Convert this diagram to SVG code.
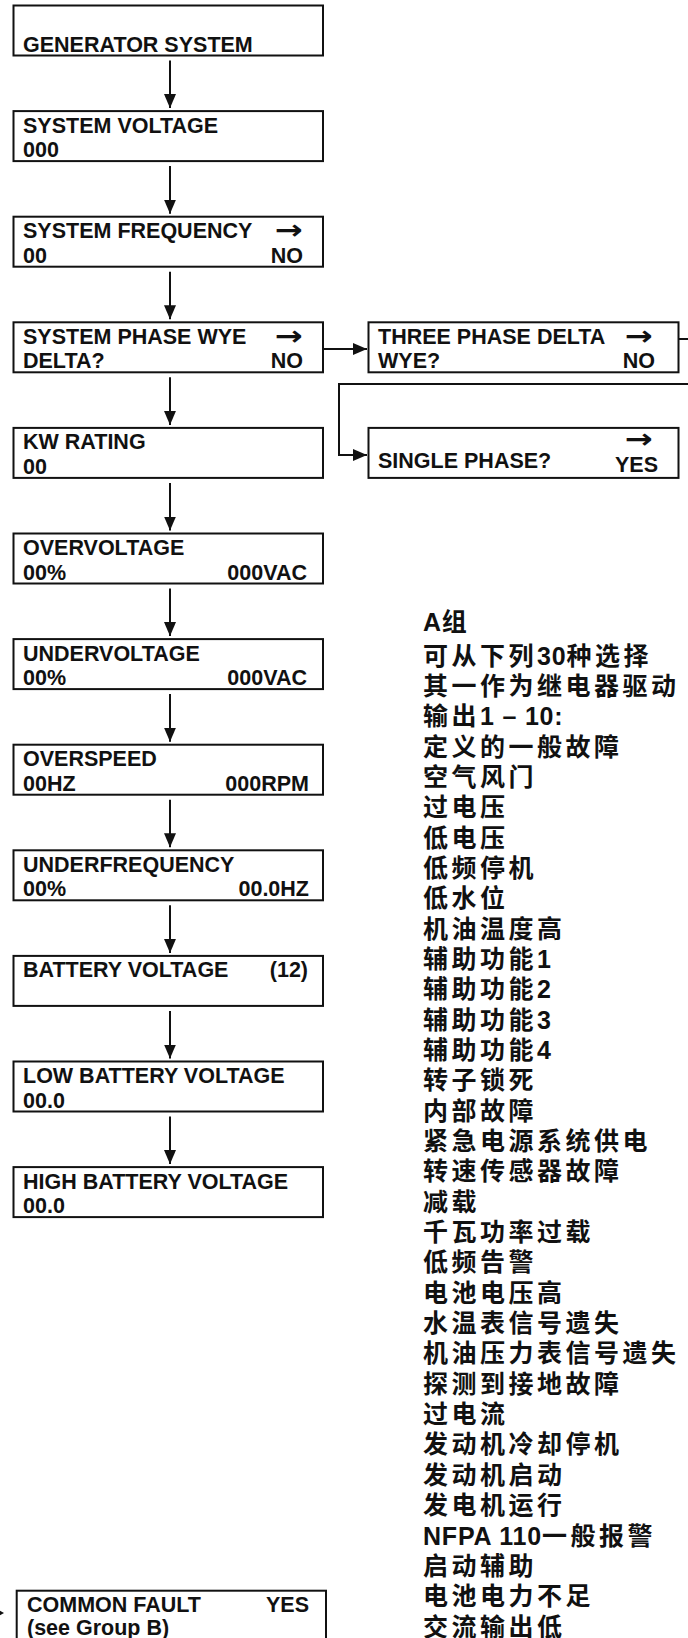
<svg xmlns="http://www.w3.org/2000/svg" width="688" height="1638" viewBox="0 0 688 1638">
<style>
.box{fill:#fff;stroke:#111;stroke-width:2}
.t{font-family:'Liberation Sans',Arial,sans-serif;font-weight:bold;font-size:21.5px;fill:#111}
.r{text-anchor:end}
.ar{font-family:'DejaVu Sans',sans-serif;font-weight:bold;font-size:27px;fill:#111}
.cn{font-family:'Liberation Sans','Noto Sans CJK SC',sans-serif;font-weight:bold;font-size:25px;letter-spacing:3.5px;fill:#111}
.lat{letter-spacing:0.8px}
.conn{stroke:#111;stroke-width:2;fill:none}
</style>
<defs>
<marker id="ah" markerUnits="userSpaceOnUse" markerWidth="14" markerHeight="12" refX="14" refY="6" orient="auto">
<path d="M0,0 L14,6 L0,12 z" fill="#111"/>
</marker>
</defs>
<rect width="688" height="1638" fill="#fff"/>

<g id="connectors">
<line class="conn" x1="170" y1="60.5" x2="170" y2="108.1" marker-end="url(#ah)"/>
<line class="conn" x1="170" y1="166.1" x2="170" y2="213.7" marker-end="url(#ah)"/>
<line class="conn" x1="170" y1="271.7" x2="170" y2="319.3" marker-end="url(#ah)"/>
<line class="conn" x1="170" y1="377.3" x2="170" y2="424.9" marker-end="url(#ah)"/>
<line class="conn" x1="170" y1="482.9" x2="170" y2="530.5" marker-end="url(#ah)"/>
<line class="conn" x1="170" y1="588.5" x2="170" y2="636.1" marker-end="url(#ah)"/>
<line class="conn" x1="170" y1="694.1" x2="170" y2="741.7" marker-end="url(#ah)"/>
<line class="conn" x1="170" y1="799.7" x2="170" y2="847.3" marker-end="url(#ah)"/>
<line class="conn" x1="170" y1="905.3" x2="170" y2="952.9" marker-end="url(#ah)"/>
<line class="conn" x1="170" y1="1010.9" x2="170" y2="1058.5" marker-end="url(#ah)"/>
<line class="conn" x1="170" y1="1116.5" x2="170" y2="1164.1" marker-end="url(#ah)"/>
<line class="conn" x1="323" y1="349" x2="367" y2="349" marker-end="url(#ah)"/>
<line class="conn" x1="678.5" y1="339" x2="688" y2="339"/>
<polyline class="conn" points="688,384 339,384 339,455 367,455" marker-end="url(#ah)"/>
<polygon points="-2,1609.5 4,1613 -2,1616.5" fill="#111"/>
</g>

<g id="n-generator"><rect class="box" x="13.5" y="5.5" width="309.5" height="50"/>
<text class="t" x="23" y="51.5">GENERATOR SYSTEM</text></g>

<g id="n-system-voltage"><rect class="box" x="13.5" y="111.1" width="309.5" height="50"/>
<text class="t" x="23" y="132.6">SYSTEM VOLTAGE</text>
<text class="t" x="23" y="157.1">000</text></g>

<g id="n-system-frequency"><rect class="box" x="13.5" y="216.7" width="309.5" height="50"/>
<text class="t" x="23" y="238.2">SYSTEM FREQUENCY</text>
<text class="ar" x="275" y="239" textLength="28" lengthAdjust="spacingAndGlyphs">→</text>
<text class="t" x="23" y="262.7">00</text>
<text class="t r" x="303" y="262.7">NO</text></g>

<g id="n-system-phase"><rect class="box" x="13.5" y="322.3" width="309.5" height="50"/>
<text class="t" x="23" y="343.8">SYSTEM PHASE WYE</text>
<text class="ar" x="275" y="344.6" textLength="28" lengthAdjust="spacingAndGlyphs">→</text>
<text class="t" x="23" y="368.3">DELTA?</text>
<text class="t r" x="303" y="368.3">NO</text></g>

<g id="n-kw-rating"><rect class="box" x="13.5" y="427.9" width="309.5" height="50"/>
<text class="t" x="23" y="449.4">KW RATING</text>
<text class="t" x="23" y="473.9">00</text></g>

<g id="n-overvoltage"><rect class="box" x="13.5" y="533.5" width="309.5" height="50"/>
<text class="t" x="23" y="555">OVERVOLTAGE</text>
<text class="t" x="23" y="579.5">00%</text>
<text class="t r" x="307" y="579.5">000VAC</text></g>

<g id="n-undervoltage"><rect class="box" x="13.5" y="639.1" width="309.5" height="50"/>
<text class="t" x="23" y="660.6">UNDERVOLTAGE</text>
<text class="t" x="23" y="685.1">00%</text>
<text class="t r" x="307" y="685.1">000VAC</text></g>

<g id="n-overspeed"><rect class="box" x="13.5" y="744.7" width="309.5" height="50"/>
<text class="t" x="23" y="766.2">OVERSPEED</text>
<text class="t" x="23" y="790.7">00HZ</text>
<text class="t r" x="309" y="790.7">000RPM</text></g>

<g id="n-underfrequency"><rect class="box" x="13.5" y="850.3" width="309.5" height="50"/>
<text class="t" x="23" y="871.8">UNDERFREQUENCY</text>
<text class="t" x="23" y="896.3">00%</text>
<text class="t r" x="309" y="896.3">00.0HZ</text></g>

<g id="n-battery-voltage"><rect class="box" x="13.5" y="955.9" width="309.5" height="50"/>
<text class="t" x="23" y="977.4">BATTERY VOLTAGE</text>
<text class="t r" x="308" y="977.4">(12)</text></g>

<g id="n-low-battery"><rect class="box" x="13.5" y="1061.5" width="309.5" height="50"/>
<text class="t" x="23" y="1083">LOW BATTERY VOLTAGE</text>
<text class="t" x="23" y="1107.5">00.0</text></g>

<g id="n-high-battery"><rect class="box" x="13.5" y="1167.1" width="309.5" height="50"/>
<text class="t" x="23" y="1188.6">HIGH BATTERY VOLTAGE</text>
<text class="t" x="23" y="1213.1">00.0</text></g>

<g id="n-three-phase"><rect class="box" x="368.5" y="322.3" width="310" height="50"/>
<text class="t" x="378" y="343.8">THREE PHASE DELTA</text>
<text class="ar" x="625" y="344.6" textLength="28" lengthAdjust="spacingAndGlyphs">→</text>
<text class="t" x="378" y="368.3">WYE?</text>
<text class="t r" x="655" y="368.3">NO</text></g>

<g id="n-single-phase"><rect class="box" x="368.5" y="427.9" width="310" height="50"/>
<text class="ar" x="625" y="448" font-size="23" textLength="28" lengthAdjust="spacingAndGlyphs">→</text>
<text class="t" x="378" y="467.5">SINGLE PHASE?</text>
<text class="t r" x="658" y="471.5">YES</text></g>

<g id="n-common-fault"><rect class="box" x="16.7" y="1590.7" width="309.3" height="52"/>
<text class="t" x="27" y="1612">COMMON FAULT</text>
<text class="t r" x="309" y="1612">YES</text>
<text class="t" x="27" y="1635">(see Group B)</text></g>

<g id="group-a-list">
<text class="cn" x="423" y="631"><tspan class="lat">A</tspan>组</text>
<text class="cn" x="423" y="664.6">可从下列<tspan class="lat">30</tspan>种选择</text>
<text class="cn" x="423" y="694.9">其一作为继电器驱动</text>
<text class="cn" x="423" y="725.3">输出<tspan class="lat">1 – 10:</tspan></text>
<text class="cn" x="423" y="755.6">定义的一般故障</text>
<text class="cn" x="423" y="786">空气风门</text>
<text class="cn" x="423" y="816.3">过电压</text>
<text class="cn" x="423" y="846.6">低电压</text>
<text class="cn" x="423" y="877">低频停机</text>
<text class="cn" x="423" y="907.3">低水位</text>
<text class="cn" x="423" y="937.7">机油温度高</text>
<text class="cn" x="423" y="968">辅助功能<tspan class="lat">1</tspan></text>
<text class="cn" x="423" y="998.3">辅助功能<tspan class="lat">2</tspan></text>
<text class="cn" x="423" y="1028.7">辅助功能<tspan class="lat">3</tspan></text>
<text class="cn" x="423" y="1059">辅助功能<tspan class="lat">4</tspan></text>
<text class="cn" x="423" y="1089.4">转子锁死</text>
<text class="cn" x="423" y="1119.7">内部故障</text>
<text class="cn" x="423" y="1150">紧急电源系统供电</text>
<text class="cn" x="423" y="1180.4">转速传感器故障</text>
<text class="cn" x="423" y="1210.7">减载</text>
<text class="cn" x="423" y="1241.1">千瓦功率过载</text>
<text class="cn" x="423" y="1271.4">低频告警</text>
<text class="cn" x="423" y="1301.7">电池电压高</text>
<text class="cn" x="423" y="1332.1">水温表信号遗失</text>
<text class="cn" x="423" y="1362.4">机油压力表信号遗失</text>
<text class="cn" x="423" y="1392.8">探测到接地故障</text>
<text class="cn" x="423" y="1423.1">过电流</text>
<text class="cn" x="423" y="1453.4">发动机冷却停机</text>
<text class="cn" x="423" y="1483.8">发动机启动</text>
<text class="cn" x="423" y="1514.1">发电机运行</text>
<text class="cn" x="423" y="1544.5"><tspan class="lat">NFPA 110</tspan>一般报警</text>
<text class="cn" x="423" y="1574.8">启动辅助</text>
<text class="cn" x="423" y="1605.1">电池电力不足</text>
<text class="cn" x="423" y="1635.5">交流输出低</text>
</g>
</svg>
